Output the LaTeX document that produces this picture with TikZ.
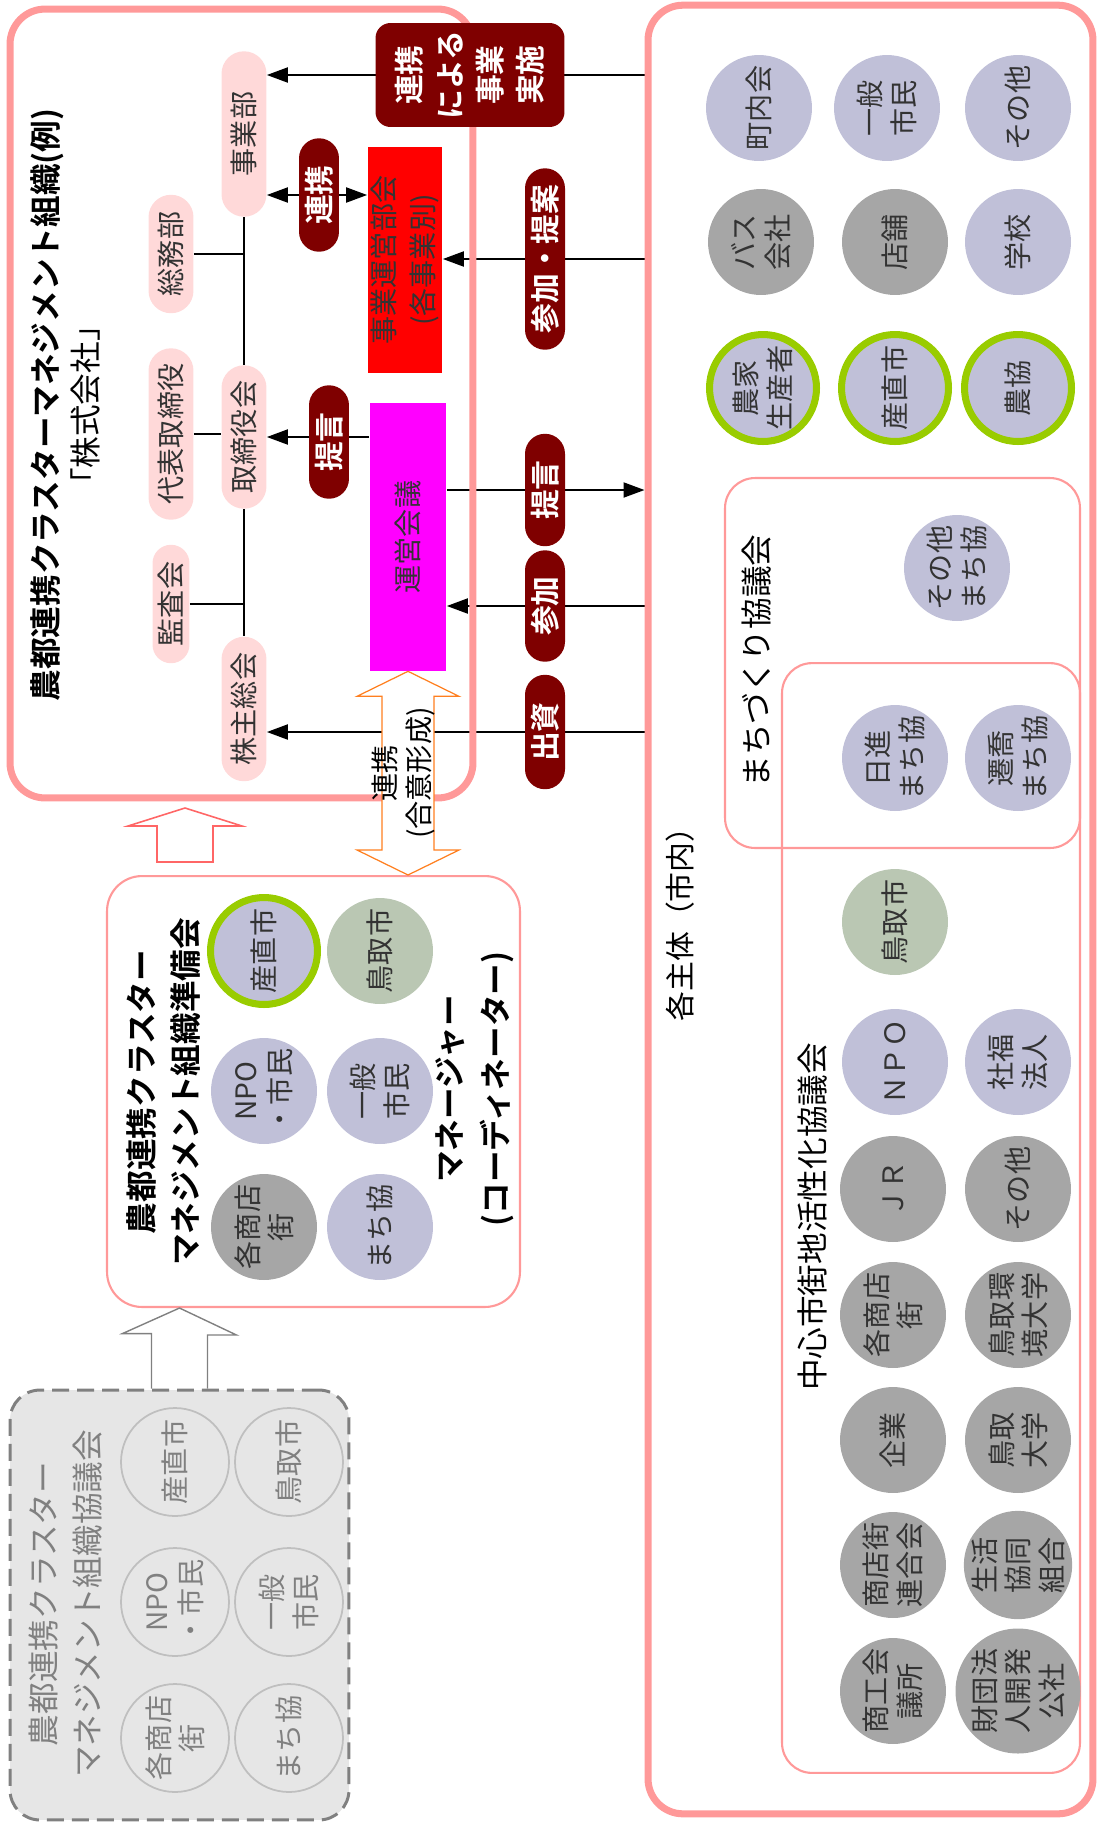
\documentclass[tikz,border=0pt]{standalone}
\usepackage{fontspec}
\setmainfont{Noto Sans CJK JP}[BoldFont={Noto Sans CJK JP Bold}]
\usetikzlibrary{shapes,arrows.meta,calc,backgrounds}

\definecolor{boxpink}{HTML}{FF9999}
\definecolor{pillpink}{HTML}{FFD9D9}
\definecolor{darkred}{HTML}{7F0000}
\definecolor{bukaired}{HTML}{FF0000}
\definecolor{ueimagenta}{HTML}{FF00FF}
\definecolor{memlav}{HTML}{C0C0D8}
\definecolor{memgray}{HTML}{A6A6A6}
\definecolor{memsage}{HTML}{BAC7B3}
\definecolor{ringgreen}{HTML}{99CC00}
\definecolor{txtgray}{HTML}{333333}
\definecolor{oldgray}{HTML}{808080}
\definecolor{oldfill}{HTML}{E6E6E6}
\definecolor{oldline}{HTML}{BFBFBF}
\definecolor{goiorange}{HTML}{FF7F1F}
\definecolor{uppink}{HTML}{FF6666}

\begin{document}
\begin{tikzpicture}[
    x=0.02cm, y=-0.02cm,
    bigbox/.style={draw=boxpink, line width=4pt, rounded corners=0.7cm},
    subbox/.style={draw=boxpink, line width=1.2pt, rounded corners=0.6cm},
    oldbox/.style={draw=oldgray, fill=oldfill, line width=1.7pt, dash pattern=on 0.34cm off 0.16cm, rounded corners=0.6cm},
    orgpill/.style={rounded rectangle, fill=pillpink, rotate=90, text=txtgray, minimum height=0.9cm, inner sep=1pt, font=\fontsize{16}{19}\selectfont},
    redpill/.style={rounded rectangle, fill=darkred, rotate=90, text=white, minimum height=0.8cm, inner sep=1pt, font=\bfseries\fontsize{17}{20}\selectfont},
    kaigi/.style={rotate=90, align=center, text=txtgray, inner sep=1pt, font=\fontsize{16}{22}\selectfont},
    member/.style={circle, rotate=90, minimum size=2.12cm, inner sep=0pt, align=center, text=txtgray, font=\fontsize{16}{19}\selectfont},
    lavm/.style={member, fill=memlav},
    graym/.style={member, fill=memgray},
    sagem/.style={member, fill=memsage},
    ringm/.style={member, fill=memlav, draw=ringgreen, line width=4pt, minimum size=2.14cm},
    oldm/.style={member, draw=oldline, line width=1pt, text=oldgray, minimum size=2.16cm},
    title/.style={rotate=90, align=center},
    edge/.style={-{Triangle[length=0.42cm,width=0.3cm]}, line width=1.1pt},
    orgline/.style={line width=1.1pt},
]
\useasboundingbox (0,0) rectangle (1099,1823);

% Boxes
\node[bigbox, minimum width=9.26cm, minimum height=15.78cm] (kaisha) at (241.5,403.5) {};
\node[bigbox, minimum width=8.9cm, minimum height=36.18cm] (kakushu) at (870.5,909.5) {};
\node[subbox, rounded corners=0.7cm, minimum width=8.26cm, minimum height=8.62cm] (junbi) at (313.5,1091.5) {};
\node[oldbox, minimum width=6.78cm, minimum height=8.6cm] (kyogi) at (179.5,1605) {};
\node[subbox, minimum width=7.1cm, minimum height=7.4cm] (machi) at (902.5,663) {};
\node[subbox, minimum width=5.96cm, minimum height=22.2cm] (chushin) at (931,1218) {};

% Titles
\node[title, font=\fontsize{18}{23}\selectfont] (kaishatitle) at (65.5,405) {\textbf{農都連携クラスターマネジメント組織(例)}\\「株式会社」};
\node[title, font=\bfseries\fontsize{18}{25}\selectfont] (junbititle) at (163.5,1092) {農都連携クラスター\\マネジメント組織準備会};
\node[title, font=\bfseries\fontsize{18}{26}\selectfont] (manager) at (475,1089) {マネージャー\\(コーディネーター)};
\node[title, text=oldgray, font=\fontsize{18}{25}\selectfont] (kyogititle) at (65.5,1604) {農都連携クラスター\\マネジメント組織協議会};
\node[title, font=\fontsize{17}{20}\selectfont] (kakushutitle) at (680,917) {各主体（市内）};
\node[title, font=\fontsize{18}{20}\selectfont] (machititle) at (757,661) {まちづくり協議会};
\node[title, font=\fontsize{18}{20}\selectfont] (chushintitle) at (813,1217) {中心市街地活性化協議会};

% Organisation
\node[orgpill, minimum width=3.38cm] (jigyo) at (244,134) {事業部};
\node[orgpill, minimum width=2.44cm] (somu) at (171,254) {総務部};
\node[orgpill, minimum width=3.5cm] (daihyo) at (171,434) {代表取締役};
\node[orgpill, minimum width=2.94cm] (torishimari) at (244,437) {取締役会};
\node[orgpill, minimum width=2.44cm, minimum height=0.74cm] (kansa) at (171,604) {監査会};
\node[orgpill, minimum width=2.96cm] (kabunushi) at (244,709) {株主総会};

\node[kaigi, fill=bukaired, minimum width=4.52cm, minimum height=1.5cm] (bukai) at (405,260) {事業運営部会\\(各事業別)};
\node[kaigi, fill=ueimagenta, minimum width=5.36cm, minimum height=1.54cm] (unei) at (408,537) {運営会議};

\draw[orgline] (jigyo.west) -- (torishimari.east);
\draw[orgline] (torishimari.west) -- (kabunushi.east);
\draw[orgline] (somu.south) -- (somu.south -| jigyo);
\draw[orgline] (daihyo.south) -- (daihyo.south -| torishimari.north);
\draw[orgline] (kansa.south) -- (kansa.south -| jigyo);

% Relations
\node[rotate=90, fill=darkred, text=white, rounded corners=0.3cm, minimum width=2.08cm, minimum height=3.78cm, align=center, font=\bfseries\fontsize{17}{23}\selectfont] (jisshi) at (470,75) {連携\\による\\事業\\実施};
\node[redpill, minimum width=2.34cm] (renkei) at (319,195) {連携};
\node[redpill, minimum width=2.34cm] (teigenL) at (329,442) {提言};
\node[redpill, minimum width=3.7cm] (sankateian) at (545,259) {参加・提案};
\node[redpill, minimum width=2.32cm] (teigenR) at (545,490) {提言};
\node[redpill, minimum width=2.3cm] (sanka) at (545,606) {参加};
\node[redpill, minimum width=2.36cm] (shusshi) at (545,732) {出資};

\begin{scope}[on background layer]
\draw[edge] (kakushu.west |- jisshi) -- (jigyo.south |- jisshi);
\draw[edge, {Triangle[length=0.42cm,width=0.3cm]}-{Triangle[length=0.42cm,width=0.3cm]}] (jigyo.south |- renkei) -- (bukai.north |- renkei);
\draw[edge] (unei.north |- torishimari) -- (torishimari.south);
\draw[edge] (kakushu.west |- sankateian) -- (bukai.south |- sankateian);
\draw[edge] (unei.south |- teigenR) -- (kakushu.west |- teigenR);
\draw[edge] (kakushu.west |- sanka) -- (unei.south |- sanka);
\draw[edge] (kakushu.west |- shusshi) -- (kabunushi.south |- shusshi);
\end{scope}

% Big hollow arrows
\draw[draw=goiorange, fill=white, line width=0.7pt] (unei.west) -- ++(51,25) -- ++(-25,0) -- ($(unei.west |- junbi.north)+(26,-25)$) -- ++(25,0) -- (unei.west |- junbi.north) -- ++(-51,-25) -- ++(25,0) -- ($(unei.west)+(-26,25)$) -- ++(-25,0) -- cycle;
\node[rotate=90, align=center, font=\fontsize{16}{19}\selectfont] (goi) at (403.5,773) {連携\\(合意形成)};

\coordinate (kaishaup) at (185,808);
\draw[draw=uppink, fill=white, line width=0.9pt] (kaishaup) -- ++(57,18) -- ++(-29,0) -- ++(0,36) -- ++(-56,0) -- ++(0,-36) -- ++(-29,0) -- cycle;
\draw[draw=oldgray, line width=0.8pt] ($(kyogi.north)+(-28,0)$) -- ++(0,-55) -- ++(-29,0) -- (kyogi.north |- junbi.south) -- ++(57,27) -- ++(-29,0) -- ($(kyogi.north)+(28,0)$);

% Preparatory committee
\node[ringm] (psanchoku) at (264,951) {産直市};
\node[sagem] (ptottori) at (380,951) {鳥取市};
\node[lavm] (pnpo) at (264,1091) {NPO\\・市民};
\node[lavm] (pippan) at (380,1091) {一般\\市民};
\node[graym] (pshoten) at (264,1227) {各商店\\街};
\node[lavm] (pmachi) at (380,1227) {まち協};

% Council
\node[oldm] (osanchoku) at (175,1462) {産直市};
\node[oldm] (ottori) at (289,1462) {鳥取市};
\node[oldm] (onpo) at (175,1602) {NPO\\・市民};
\node[oldm] (oippan) at (289,1602) {一般\\市民};
\node[oldm] (oshoten) at (175,1738) {各商店\\街};
\node[oldm] (omachi) at (289,1738) {まち協};

% Members in the city
\node[lavm] (chonaikai) at (759,108) {町内会};
\node[lavm] (ippan) at (887,108) {一般\\市民};
\node[lavm] (sonota) at (1018,108) {その他};
\node[graym] (bus) at (761,242) {バス\\会社};
\node[graym] (tenpo) at (895,242) {店舗};
\node[lavm] (gakko) at (1018,242) {学校};
\node[ringm] (noka) at (763,388) {農家\\生産者};
\node[ringm] (sanchoku) at (895,388) {産直市};
\node[ringm] (nokyo) at (1018,388) {農協};

\node[lavm] (msonota) at (957,568) {その他\\まち協};
\node[lavm] (mnisshin) at (895,758) {日進\\まち協};
\node[lavm] (msenkyo) at (1018,758) {遷喬\\まち協};

\node[sagem] (ctottori) at (895,922) {鳥取市};
\node[lavm] (cnpo) at (895,1062) {ＮＰＯ};
\node[lavm] (cshafuku) at (1018,1062) {社福\\法人};
\node[graym] (cjr) at (893,1189) {ＪＲ};
\node[graym] (csonota) at (1018,1189) {その他};
\node[graym] (cshoten) at (893,1315) {各商店\\街};
\node[graym] (ckankyo) at (1018,1315) {鳥取環\\境大学};
\node[graym] (ckigyo) at (893,1440) {企業};
\node[graym] (ctodai) at (1018,1440) {鳥取\\大学};
\node[graym] (crengo) at (893,1565) {商店街\\連合会};
\node[graym] (cseikyo) at (1018,1565) {生活\\協同\\組合};
\node[graym] (cshokokai) at (893,1691) {商工会\\議所};
\node[graym] (czaidan) at (1018,1691) {財団法\\人開発\\公社};

\end{tikzpicture}
\end{document}
